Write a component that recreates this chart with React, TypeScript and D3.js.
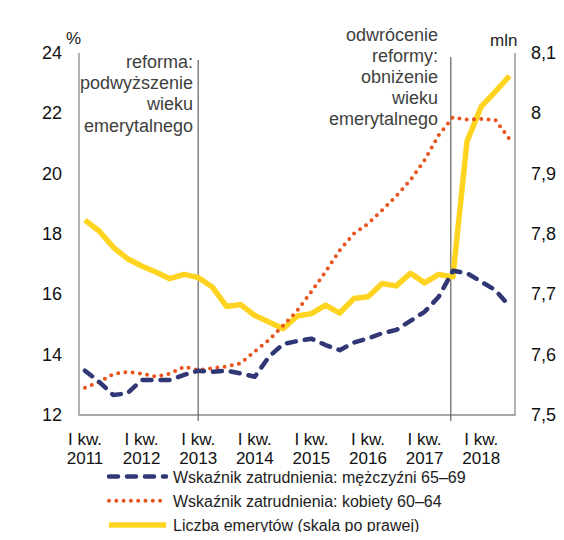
import React from 'react';
import * as d3 from 'd3';

// quarters 2011Q1 .. 2018Q3 (31 points)
const years = ['2011', '2012', '2013', '2014', '2015', '2016', '2017', '2018'];

const menRate = [
  13.47, 13.1, 12.66, 12.72, 13.16, 13.16, 13.16, 13.33, 13.47, 13.43, 13.47,
  13.38, 13.27, 13.93, 14.35, 14.45, 14.53, 14.32, 14.15, 14.4, 14.54, 14.71,
  14.82, 15.12, 15.42, 15.92, 16.78, 16.7, 16.42, 16.14, 15.61,
];

const womenRate = [
  12.9, 13.09, 13.36, 13.43, 13.37, 13.27, 13.37, 13.6, 13.49, 13.55, 13.61,
  13.71, 14.11, 14.49, 14.96, 15.46, 16.09, 16.75, 17.46, 18.01, 18.34, 18.79,
  19.26, 19.79, 20.45, 21.28, 21.87, 21.79, 21.81, 21.78, 21.15,
];

const pensioners = [
  7.823, 7.805, 7.778, 7.759, 7.747, 7.737, 7.726, 7.733, 7.728, 7.712, 7.68,
  7.683, 7.665, 7.654, 7.643, 7.664, 7.668, 7.682, 7.669, 7.693, 7.696, 7.718,
  7.714, 7.735, 7.719, 7.733, 7.729, 7.954, 8.011, 8.036, 8.062,
];

const leftTicks = [12, 14, 16, 18, 20, 22, 24];
const rightTicks = [7.5, 7.6, 7.7, 7.8, 7.9, 8.0, 8.1];

const reformNote = ['reforma:', 'podwyższenie', 'wieku', 'emerytalnego'];
const reversalNote = ['odwrócenie', 'reformy:', 'obniżenie', 'wieku', 'emerytalnego'];

const legendItems = [
  { label: 'Wskaźnik zatrudnienia: mężczyźni 65–69', kind: 'men' },
  { label: 'Wskaźnik zatrudnienia: kobiety 60–64', kind: 'women' },
  { label: 'Liczba emerytów (skala po prawej)', kind: 'pens' },
];

const NAVY = '#2f3775';
const ORANGE = '#e8531e';
const YELLOW = '#ffd420';
const GRID = '#8a8a8a';
const FONT = '"Liberation Sans", Arial, sans-serif';

const styles: Record<string, React.SVGProps<SVGPathElement>> = {
  men: { stroke: NAVY, strokeWidth: 4.5, strokeDasharray: '9 9', strokeLinecap: 'round' },
  women: { stroke: ORANGE, strokeWidth: 4, strokeDasharray: '0 7.3', strokeLinecap: 'round' },
  pens: { stroke: YELLOW, strokeWidth: 5.5, strokeLinecap: 'butt' },
};

export default function App() {
  const width = 564;
  const height = 540;
  const left = 79, right = 515, top = 53, bottom = 415;

  const x = d3.scaleLinear().domain([0, 30]).range([85, 509.5]);
  const yL = d3.scaleLinear().domain([12, 24]).range([bottom, top]);
  const yR = d3.scaleLinear().domain([7.5, 8.1]).range([bottom, top]);

  const lineL = d3.line<number>().x((_, i) => x(i)).y(d => yL(d));
  const lineR = d3.line<number>().x((_, i) => x(i)).y(d => yR(d));

  const reformX = x(8);
  const reversalX = x(25.85);

  return (
    <div style={{ margin: -8 }}>
      <svg width={width} height={height} style={{ display: 'block', fontFamily: FONT }}>
        <rect width={width} height={height} fill="#fff" />
        {/* frame */}
        <path d={`M${left},${top}V${bottom}H${right}V${top}`} fill="none" stroke={GRID} strokeWidth={1.3} />
        <line x1={reformX} x2={reformX} y1={60} y2={421} stroke="#6e6e6e" strokeWidth={1.3} />
        <line x1={reversalX} x2={reversalX} y1={57} y2={421} stroke="#6e6e6e" strokeWidth={1.3} />

        {/* annotations */}
        {reformNote.map((t, i) => (
          <text key={t} x={193} y={68 + i * 21.2} textAnchor="end" fontSize={18} fill="#404040">{t}</text>
        ))}
        {reversalNote.map((t, i) => (
          <text key={t + i} x={438} y={41 + i * 21} textAnchor="end" fontSize={18} fill="#404040">{t}</text>
        ))}

        {/* axes */}
        {leftTicks.map(t => (
          <text key={t} x={62} y={yL(t) + 6} textAnchor="end" fontSize={18} fill="#111">{t}</text>
        ))}
        {rightTicks.map(t => (
          <text key={t} x={531} y={yR(t) + 6} fontSize={18} fill="#111">
            {t === 8 ? '8' : d3.format('.1f')(t).replace('.', ',')}
          </text>
        ))}
        <text x={66} y={44} fontSize={17} fill="#222">%</text>
        <text x={490} y={46} fontSize={17} fill="#222">mln</text>
        {years.map((yr, i) => (
          <g key={yr} fontSize={17} fill="#111" textAnchor="middle">
            <text x={x(i * 4)} y={445}>I kw.</text>
            <text x={x(i * 4)} y={463.5}>{yr}</text>
          </g>
        ))}

        {/* series */}
        <path d={lineR(pensioners) || ''} fill="none" {...styles.pens} strokeLinejoin="round" />
        <path d={lineL(womenRate) || ''} fill="none" {...styles.women} />
        <path d={lineL(menRate) || ''} fill="none" {...styles.men} strokeLinejoin="round" />

        {/* legend */}
        {legendItems.map((it, i) => {
          const cy = 476.5 + i * 24.3;
          return (
            <g key={it.kind}>
              <path d={`M109,${cy}H166`} fill="none" {...styles[it.kind]} />
              <text x={173} y={cy + 6} fontSize={16} fill="#222">{it.label}</text>
            </g>
          );
        })}
      </svg>
    </div>
  );
}
